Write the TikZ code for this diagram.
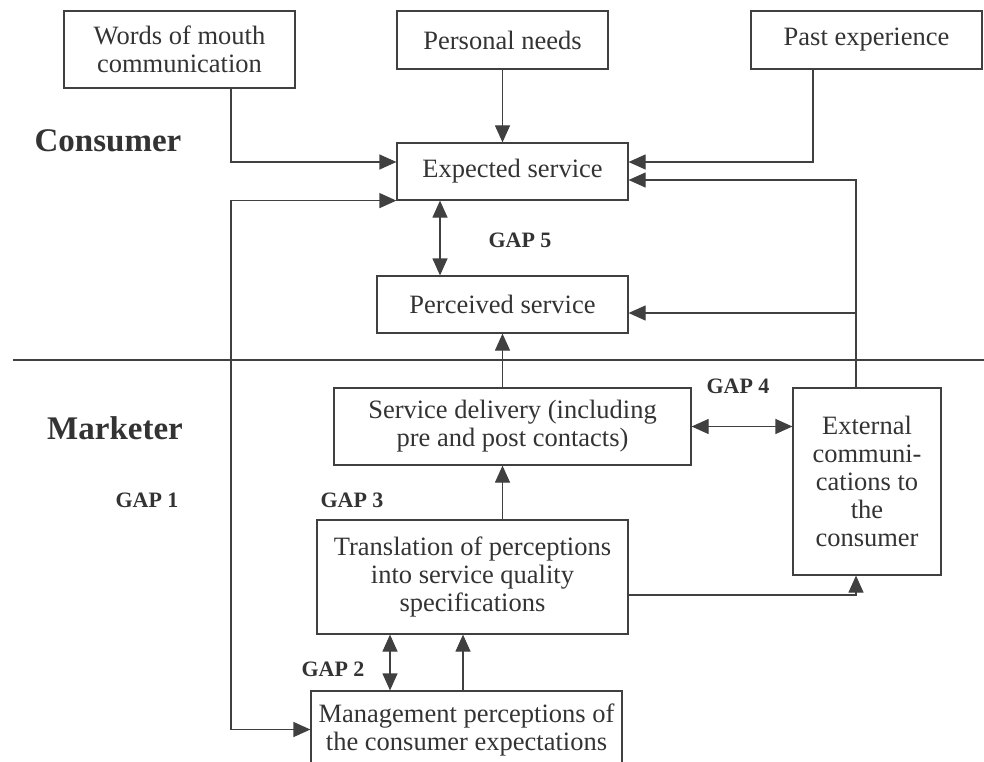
\documentclass[tikz,border=0pt]{standalone}
\usepackage{fontspec}
\setmainfont{Liberation Serif}
\usetikzlibrary{arrows.meta}

\begin{document}
\begin{tikzpicture}[x=1pt, y=-1pt,
        box/.style={draw=black!75, line width=1.2pt, inner sep=0pt, align=center, text=black!80, font=\fontsize{26.5}{28}\selectfont},
        gap/.style={text=black!80, font=\bfseries\fontsize{22}{24}\selectfont},
        side/.style={text=black!80, font=\bfseries\fontsize{33}{36}\selectfont},
        arr/.style={draw=black!75, line width=1.2pt, -{Triangle[length=17pt,width=15pt]}},
        both/.style={arr, {Triangle[length=17pt,width=15pt]}-{Triangle[length=17pt,width=15pt]}}]
        \useasboundingbox (0,0) rectangle (984,762);

        % Consumer side
        \node[box, minimum width=231pt, minimum height=77pt] (wom) at (179.5,49.5) {Words of mouth\\communication};
        \node[box, minimum width=211pt, minimum height=58pt] (pn) at (502.5,40) {Personal needs};
        \node[box, minimum width=231pt, minimum height=58pt] (pe) at (866.5,40) {Past experience};
        \node[box, minimum width=231pt, minimum height=57pt] (es) at (512.5,171.5) {Expected service};
        \node[box, minimum width=251pt, minimum height=57pt] (ps) at (502.5,304.5) {Perceived service};

        % Marketer side
        \node[box, minimum width=357pt, minimum height=77pt] (sd) at (512.5,426.5) {Service delivery (including\\pre and post contacts)};
        \node[box, minimum width=148pt, minimum height=187pt] (ec) at (867,481.5) {External\\communi-\\cations to\\the\\consumer};
        \node[box, minimum width=311pt, minimum height=114pt] (tr) at (472.5,577) {Translation of perceptions\\into service quality\\specifications};
        \node[box, minimum width=311pt, minimum height=77pt] (mp) at (466.5,729.5) {Management perceptions of\\the consumer expectations};

        % Labels
        \node[side] (con) at (108,141) {Consumer};
        \node[side] (mar) at (115,428) {Marketer};
        \node[gap] (g1) at (147,500) {GAP 1};
        \node[gap] (g2) at (333,669) {GAP 2};
        \node[gap] (g3) at (352,500) {GAP 3};
        \node[gap] (g4) at (738,386) {GAP 4};
        \node[gap] (g5) at (520,240) {GAP 5};

        % Divider
        \draw[black!75, line width=1.2pt] (13,360) -- (984,360);

        % Columns of the connectors
        \coordinate (cl) at (231,0);
        \coordinate (cp) at (813,0);
        \coordinate (cr) at (856,0);
        \coordinate (c5) at (440,0);
        \coordinate (c2) at (390,0);
        \coordinate (cm) at (463,0);

        \draw[arr] (wom.south -| cl) |- ([yshift=9.5pt]es.west);
        \draw[arr] (pn.south) -- (pn.south |- es.north);
        \draw[arr] (pe.south -| cp) |- ([yshift=9.5pt]es.east);
        \draw[arr] (ec.north -| cr) |- ([yshift=-8.5pt]es.east);
        \draw[arr] ([yshift=-8.5pt]ps.east -| cr) -- ([yshift=-8.5pt]ps.east);
        \draw[both] (es.south -| c5) -- (ps.north -| c5);
        \draw[both] (es.south west) -- (es.south west -| cl) -- (mp.west -| cl) -- (mp.west);
        \draw[arr] (sd.north -| ps.south) -- (ps.south);
        \draw[arr] (tr.north -| ps.south) -- (sd.south -| ps.south);
        \draw[both] (sd.east) -- (sd.east -| ec.west);
        \draw[arr] ([yshift=-18pt]tr.east) -| (ec.south -| cr);
        \draw[both] (tr.south -| c2) -- (mp.north -| c2);
        \draw[arr] (mp.north -| cm) -- (tr.south -| cm);
\end{tikzpicture}
\end{document}
